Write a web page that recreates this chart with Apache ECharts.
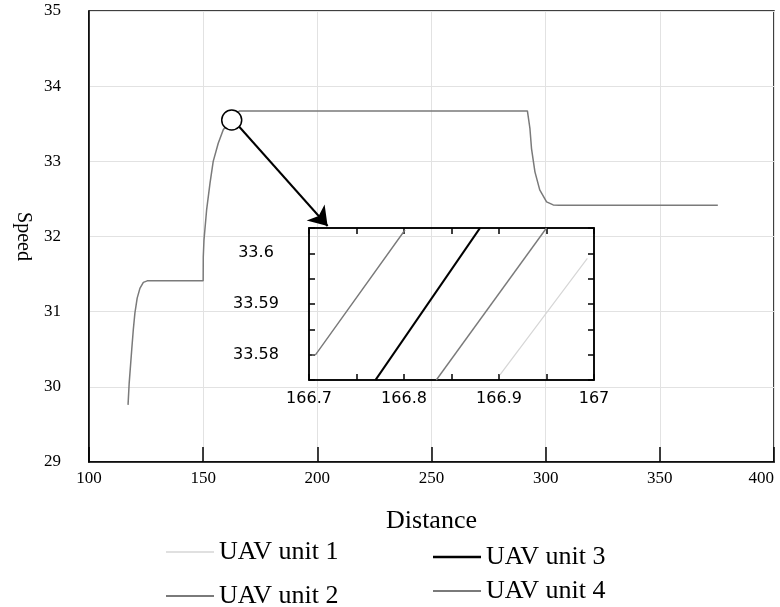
<!DOCTYPE html>
<html>
<head>
<meta charset="utf-8">
<script src="https://cdn.jsdelivr.net/npm/echarts@6/dist/echarts.min.js"></script>
<style>
  html, body { margin: 0; padding: 0; background: #fff; }
  #chart { width: 780px; height: 607px; }
</style>
</head>
<body>
<div id="chart"></div>
<script>
// main curve (all units overlap at this scale)
const mainDistance = [117.1, 117.6, 118.7, 119.4, 120.1, 121.1, 122.3, 123.8, 125.5, 150.0,
  150.05, 150.35, 151.5, 153.0, 154.4, 156.6, 158.8, 160.3, 162.5, 164.5, 166.0,
  292.0, 293.1, 293.8, 295.3, 297.4, 300.4, 303.3, 306.0, 375.4]
const mainSpeed = [29.76, 30.05, 30.49, 30.76, 30.98, 31.18, 31.31, 31.39, 31.41, 31.41,
  31.73, 31.95, 32.35, 32.71, 33.0, 33.24, 33.42, 33.48, 33.55, 33.64, 33.67,
  33.67, 33.44, 33.17, 32.86, 32.62, 32.46, 32.42, 32.415, 32.415]

// zoomed window
const unitNames = ['UAV unit 1', 'UAV unit 2', 'UAV unit 3', 'UAV unit 4']
const inset1 = [[166.901, 33.576], [166.993, 33.599]]
const inset2 = [[166.703, 33.5799], [166.707, 33.58], [166.801, 33.6046]]
const inset3 = [[166.770, 33.575], [166.880, 33.605]]
const inset4 = [[166.834, 33.575], [166.950, 33.605]]

const marker = [162.5, 33.55]
const arrowFrom = [165.8, 33.46]
const arrowTo = [204.5, 32.14]

const serif = '"Liberation Serif", "DejaVu Serif", serif'
const sans = '"DejaVu Sans", sans-serif'

const chart = echarts.init(document.getElementById('chart'), null, { renderer: 'canvas' })

const insetStyles = [
  { color: '#d6d6d6', width: 1.2 },
  { color: '#7a7a7a', width: 1.4 },
  { color: '#000000', width: 2.2 },
  { color: '#7a7a7a', width: 1.4 },
]
const insetData = [inset1, inset2, inset3, inset4]

const legendPos = [
  { left: 166, top: 539 },
  { left: 166, top: 583 },
  { left: 433, top: 544 },
  { left: 433, top: 578 },
]
const legendLine = [1.5, 2, 2.5, 2]

const insetAxisLine = { show: true, lineStyle: { color: '#000', width: 1.5 } }
const insetTick = { show: true, inside: true, length: 6, lineStyle: { color: '#000', width: 1.5 } }

chart.setOption({
  animation: false,
  backgroundColor: '#fff',
  grid: [
    { left: 89, top: 11, right: 6, bottom: 145, show: true, borderColor: '#000', borderWidth: 1.5,
      backgroundColor: 'transparent', containLabel: false, outerBoundsMode: 'none' },
    { left: 309, top: 228, width: 285, height: 152, show: true, borderColor: '#000', borderWidth: 1.5,
      backgroundColor: 'transparent', containLabel: false, outerBoundsMode: 'none', z: 5 },
  ],
  legend: unitNames.map((n, i) => ({
    data: [n],
    left: legendPos[i].left,
    top: legendPos[i].top,
    padding: 0,
    icon: 'rect',
    itemWidth: 48,
    itemHeight: legendLine[i],
    textStyle: { fontFamily: serif, fontSize: 26, color: '#000', lineHeight: 26 },
    selectedMode: false,
  })),
  xAxis: [
    {
      gridIndex: 0, type: 'value', min: 100, max: 400, interval: 50,
      name: 'Distance', nameLocation: 'middle', nameGap: 46,
      nameTextStyle: { fontFamily: serif, fontSize: 26, color: '#000' },
      axisLine: { show: true, lineStyle: { color: '#000', width: 1.5 } },
      axisTick: { show: true, inside: true, length: 15, lineStyle: { color: '#000', width: 1.5 } },
      axisLabel: { fontFamily: serif, fontSize: 17, color: '#000', margin: 8, alignMaxLabel: 'right' },
      splitLine: { show: true, lineStyle: { color: '#e2e2e2', width: 1 } },
    },
    {
      gridIndex: 1, type: 'value', min: 166.7, max: 167, interval: 0.05,
      axisLine: insetAxisLine, axisTick: insetTick,
      axisLabel: {
        fontFamily: sans, fontSize: 16, color: '#000', margin: 11,
        formatter: v => Math.abs(v * 10 - Math.round(v * 10)) < 1e-6 ? String(Math.round(v * 10) / 10) : '',
      },
      splitLine: { show: false },
    },
    {
      gridIndex: 1, type: 'value', position: 'top', min: 166.7, max: 167, interval: 0.05,
      axisLine: insetAxisLine, axisTick: insetTick, axisLabel: { show: false }, splitLine: { show: false },
    },
  ],
  yAxis: [
    {
      gridIndex: 0, type: 'value', min: 29, max: 35, interval: 1,
      name: 'Speed', nameLocation: 'middle', nameGap: 54, nameRotate: -90,
      nameTextStyle: { fontFamily: serif, fontSize: 20, color: '#000' },
      axisLine: { show: true, lineStyle: { color: '#000', width: 1.5 } },
      axisTick: { show: false },
      axisLabel: { fontFamily: serif, fontSize: 17, color: '#000', margin: 28 },
      splitLine: { show: true, lineStyle: { color: '#e2e2e2', width: 1 } },
    },
    {
      gridIndex: 1, type: 'value', min: 33.575, max: 33.605, interval: 0.005,
      axisLine: insetAxisLine, axisTick: insetTick,
      axisLabel: {
        fontFamily: sans, fontSize: 16, color: '#000', margin: 53, align: 'center',
        formatter: v => Math.abs(v * 100 - Math.round(v * 100)) < 1e-6 ? String(Math.round(v * 100) / 100) : '',
      },
      splitLine: { show: false },
    },
    {
      gridIndex: 1, type: 'value', position: 'right', min: 33.575, max: 33.605, interval: 0.005,
      axisLine: insetAxisLine, axisTick: insetTick, axisLabel: { show: false }, splitLine: { show: false },
    },
  ],
  series: [
    ...unitNames.map((n, i) => ({
      name: n,
      type: 'line',
      xAxisIndex: 1,
      yAxisIndex: 1,
      symbol: 'none',
      silent: true,
      z: 6,
      lineStyle: insetStyles[i],
      itemStyle: { color: insetStyles[i].color },
      data: insetData[i],
    })),
    {
      name: 'overlapping units',
      type: 'line',
      xAxisIndex: 0,
      yAxisIndex: 0,
      symbol: 'none',
      silent: true,
      z: 3,
      lineStyle: { color: '#7a7a7a', width: 1.5 },
      itemStyle: { color: '#7a7a7a' },
      data: mainDistance.map((d, i) => [d, mainSpeed[i]]),
      markPoint: {
        silent: true,
        symbol: 'circle',
        symbolSize: 20,
        label: { show: false },
        itemStyle: { color: '#fff', borderColor: '#000', borderWidth: 1.5 },
        data: [{ coord: marker }],
      },
      markLine: {
        silent: true,
        symbol: ['none', 'arrow'],
        symbolSize: 18,
        label: { show: false },
        lineStyle: { color: '#000', width: 2, type: 'solid' },
        data: [[{ coord: arrowFrom }, { coord: arrowTo }]],
      },
    },
  ],
})
</script>
</body>
</html>
